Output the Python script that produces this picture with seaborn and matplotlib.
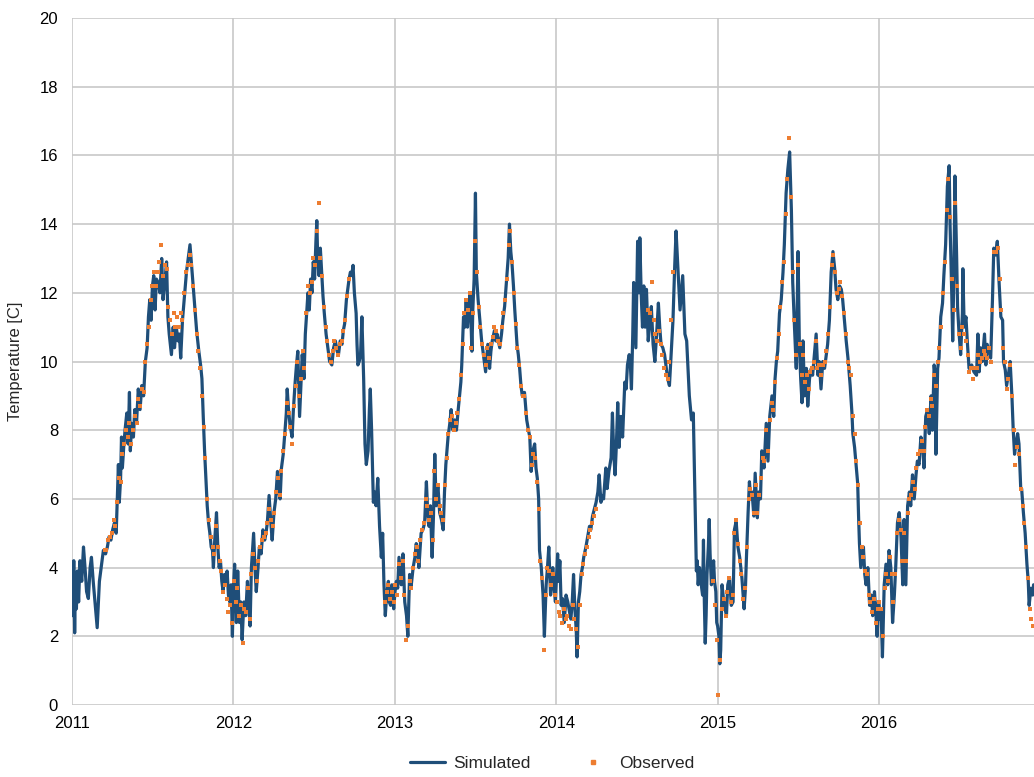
import numpy as np
import pandas as pd
import matplotlib
matplotlib.use("Agg")
import matplotlib.pyplot as plt
import matplotlib.dates as mdates
from matplotlib.lines import Line2D
import seaborn as sns

# ---------------- Simulated series (day of year, temperature) ----------------
sim_days_2011 = [0, 2, 4, 6, 8, 10, 12, 15, 18, 22, 26, 30, 33, 37, 41, 44, 48, 52, 57, 62, 67, 71, 76, 80, 84, 88, 92, 96, 100,
                 103, 105, 107, 110, 112, 114, 117, 120, 124, 127, 130, 132, 135, 139, 142, 146, 150, 154, 158, 162, 166, 170,
                 173, 176, 179, 182, 185, 188, 191, 195, 199, 203, 206, 210, 214, 217, 220, 225, 229, 232, 236, 240, 243, 246,
                 250, 255, 259, 263, 267, 270, 274, 278, 282, 287, 291, 294, 297, 300, 303, 306, 309, 312, 315, 318, 320, 323,
                 327, 330, 333, 336, 339, 342, 345, 348, 351, 354, 357, 360, 363]
sim_temp_2011 = [3.5, 2.6, 4.2, 2.1, 3.7, 2.8, 3.9, 3.0, 4.2, 3.6, 4.6, 3.9, 3.3, 3.1, 4.0, 4.3, 3.6, 3.0, 2.25, 3.6, 4.1, 4.5, 4.4,
                 4.6, 4.9, 4.8, 5.1, 5.3, 5.0, 6.2, 7.0, 5.9, 6.6, 7.8, 6.9, 7.5, 8.0, 8.5, 7.6, 9.1, 7.4, 8.2, 7.8, 8.6, 8.2,
                 9.2, 8.6, 9.3, 9.0, 10.0, 10.4, 11.3, 11.8, 11.2, 12.2, 12.5, 11.5, 12.4, 12.3, 12.0, 13.0, 11.8, 12.3, 12.9,
                 11.3, 10.8, 10.2, 11.0, 10.4, 11.0, 10.6, 10.8, 10.1, 11.2, 12.0, 12.6, 13.0, 13.4, 12.9, 12.2, 11.6, 10.9,
                 10.3, 9.9, 9.5, 8.4, 7.4, 6.6, 5.8, 5.3, 5.0, 4.6, 4.5, 4.0, 4.8, 5.6, 4.6, 4.0, 4.2, 3.6, 3.3, 3.8, 3.5,
                 3.9, 3.2, 3.0, 3.5, 2.0]

sim_days_2012 = [0, 3, 5, 7, 10, 14, 17, 20, 24, 28, 32, 35, 38, 41, 46, 49, 52, 56, 59, 63, 67, 71, 74, 77, 81, 85, 88, 92, 96,
                 100, 103, 106, 109, 113, 117, 120, 122, 125, 128, 133, 136, 140, 143, 146, 150, 153, 156, 160, 163, 166, 169,
                 172, 175, 178, 181, 184, 187, 189, 191, 194, 197, 200, 203, 206, 210, 214, 218, 223, 227, 231, 235, 238, 242,
                 246, 249, 252, 256, 259, 262, 265, 268, 271, 274, 278, 280, 282, 285, 288, 291, 295, 298, 301, 305, 308, 310,
                 313, 317, 320, 323, 327, 331, 335, 338, 341, 344, 347, 351, 353, 356, 359, 363]
sim_temp_2012 = [3.3, 4.1, 3.2, 2.4, 3.9, 2.4, 3.0, 1.9, 3.0, 2.6, 3.6, 2.9, 2.3, 4.0, 5.0, 4.0, 3.3, 4.0, 4.6, 4.4, 5.1, 4.8, 5.0,
                 5.3, 6.1, 5.3, 4.8, 5.6, 6.0, 6.8, 6.2, 6.0, 6.9, 7.3, 8.0, 8.5, 9.2, 8.6, 8.2, 7.8, 8.6, 9.4, 9.9, 10.3, 8.4,
                 9.3, 10.2, 9.5, 10.8, 11.4, 12.0, 11.5, 12.4, 12.0, 12.9, 12.4, 13.5, 14.1, 13.0, 12.5, 13.3, 12.6, 11.9,
                 11.4, 10.8, 10.4, 10.0, 9.9, 10.4, 10.6, 10.3, 10.2, 10.6, 10.5, 10.9, 11.1, 11.8, 12.1, 12.4, 12.6, 12.5,
                 12.8, 12.0, 11.4, 10.5, 9.9, 10.0, 10.2, 11.3, 9.5, 7.6, 7.0, 7.4, 8.6, 9.2, 8.0, 5.9, 6.2, 5.8, 6.6, 5.2,
                 4.3, 5.0, 3.5, 2.6, 3.2, 3.6, 3.0, 2.9, 3.5, 2.8]

sim_days_2013 = [0, 3, 6, 9, 14, 18, 22, 26, 29, 33, 36, 41, 45, 48, 51, 54, 59, 63, 67, 71, 74, 77, 80, 84, 87, 90, 93, 97, 101,
                 105, 109, 112, 115, 120, 124, 127, 131, 135, 139, 143, 146, 149, 151, 155, 158, 161, 164, 166, 170, 174, 176,
                 179, 182, 184, 188, 192, 196, 199, 202, 205, 208, 210, 214, 217, 220, 225, 228, 231, 237, 241, 244, 248, 252,
                 256, 259, 262, 265, 268, 271, 276, 279, 282, 285, 288, 293, 298, 302, 305, 308, 312, 316, 319, 322, 325, 327,
                 331, 335, 338, 342, 345, 348, 352, 355, 357, 360, 363]
sim_temp_2013 = [3.3, 3.6, 3.4, 4.3, 3.5, 4.4, 3.0, 2.6, 2.0, 3.8, 3.4, 4.0, 4.3, 4.7, 4.5, 4.0, 5.0, 5.1, 5.3, 6.5, 5.6, 5.2, 5.8,
                 4.3, 5.5, 7.3, 5.8, 6.4, 5.6, 5.4, 5.1, 6.2, 7.0, 7.8, 8.2, 8.6, 8.0, 8.3, 8.0, 8.6, 9.0, 9.4, 9.9, 11.3, 11.0,
                 11.8, 11.0, 11.4, 12.0, 10.3, 11.5, 12.4, 14.9, 12.6, 11.8, 11.2, 10.6, 10.3, 10.0, 9.7, 10.2, 10.5, 9.8,
                 10.3, 10.6, 10.9, 10.6, 10.8, 10.4, 10.8, 11.2, 11.6, 12.3, 13.0, 14.0, 13.2, 12.8, 12.2, 11.5, 10.5, 10.2,
                 9.8, 9.3, 9.0, 9.1, 8.3, 8.0, 7.8, 6.8, 7.4, 7.6, 6.9, 6.6, 6.0, 4.5, 4.0, 3.2, 2.0, 3.5, 4.0, 4.6, 3.2, 3.6,
                 4.0, 3.4, 3.0]

sim_days_2014 = [0, 3, 5, 8, 11, 14, 18, 22, 26, 30, 33, 36, 39, 42, 45, 47, 50, 53, 56, 59, 62, 67, 71, 75, 78, 82, 86, 90, 94,
                 97, 101, 104, 107, 112, 115, 119, 124, 127, 130, 133, 136, 139, 142, 146, 150, 155, 158, 161, 165, 168, 170,
                 173, 175, 178, 180, 184, 187, 189, 192, 195, 198, 201, 204, 208, 212, 215, 219, 223, 227, 231, 234, 237, 241,
                 245, 249, 252, 256, 259, 261, 264, 266, 268, 271, 274, 276, 280, 283, 286, 289, 291, 295, 298, 301, 304, 306,
                 310, 312, 314, 317, 319, 321, 324, 326, 329, 331, 333, 335, 337, 339, 341, 344, 346, 348, 351, 353, 356, 358,
                 361, 363]
sim_temp_2014 = [3.6, 4.4, 3.6, 4.2, 2.9, 3.1, 2.4, 3.2, 3.0, 2.7, 2.5, 3.0, 3.8, 2.8, 2.2, 1.4, 3.0, 3.3, 3.8, 4.0, 4.3, 4.6, 4.9,
                 5.2, 5.1, 5.5, 5.7, 5.9, 6.2, 6.7, 5.9, 6.1, 6.0, 6.9, 6.3, 6.8, 7.2, 8.5, 7.3, 6.7, 7.6, 8.8, 7.5, 8.4, 7.8,
                 9.4, 9.2, 9.9, 10.2, 9.8, 9.2, 10.8, 12.3, 11.2, 10.4, 13.5, 12.0, 13.6, 12.0, 11.0, 12.2, 11.0, 12.1, 10.6,
                 11.2, 11.6, 10.5, 10.0, 10.8, 11.7, 11.0, 10.5, 10.4, 10.2, 9.8, 9.5, 9.3, 10.0, 10.5, 11.2, 12.0, 12.8, 13.8,
                 13.0, 12.5, 11.5, 12.0, 12.5, 11.5, 10.8, 10.6, 9.8, 9.0, 8.6, 8.3, 8.5, 7.2, 6.0, 3.9, 4.2, 3.5, 4.0, 3.8,
                 3.4, 3.2, 4.8, 3.0, 1.8, 2.6, 3.8, 4.6, 5.4, 4.4, 3.5, 3.8, 4.2, 3.6, 3.3, 2.4]

sim_days_2015 = [0, 3, 5, 7, 10, 14, 17, 20, 23, 27, 31, 35, 38, 42, 46, 50, 55, 60, 63, 65, 69, 72, 75, 78, 82, 85, 90, 93, 97,
                 100, 105, 110, 114, 118, 123, 127, 130, 133, 136, 140, 144, 148, 151, 155, 159, 163, 167, 170, 174, 178, 182,
                 185, 188, 191, 193, 197, 201, 204, 208, 212, 215, 219, 223, 227, 230, 234, 238, 242, 246, 249, 253, 257, 261,
                 265, 268, 272, 276, 280, 283, 287, 291, 295, 300, 304, 306, 310, 314, 317, 319, 321, 324, 327, 330, 333, 336,
                 340, 344, 348, 351, 355, 358, 361, 364]
sim_temp_2015 = [2.3, 2.0, 1.2, 1.6, 3.5, 3.0, 2.8, 2.6, 3.5, 3.7, 2.9, 3.0, 5.1, 5.35, 4.6, 4.3, 3.7, 2.8, 3.4, 4.2, 5.6, 6.5, 6.0,
                 6.2, 5.5, 6.75, 5.45, 6.2, 6.0, 7.4, 6.9, 8.2, 7.1, 8.4, 9.0, 8.4, 9.5, 10.0, 10.3, 11.4, 11.8, 12.6, 13.4,
                 14.9, 15.6, 16.1, 14.4, 12.3, 11.0, 9.8, 13.2, 10.5, 9.5, 8.8, 10.6, 9.0, 9.8, 8.7, 9.5, 9.8, 9.6, 10.2, 10.8,
                 9.6, 10.0, 9.2, 10.0, 9.8, 10.2, 10.5, 11.2, 12.6, 13.2, 12.7, 12.1, 11.8, 12.2, 12.1, 11.8, 11.2, 10.6, 10.1,
                 9.3, 8.5, 7.9, 7.5, 6.9, 6.45, 5.5, 4.7, 4.0, 4.3, 4.6, 3.8, 3.5, 4.0, 2.9, 3.2, 2.6, 3.3, 2.7, 2.0, 3.0]

sim_days_2016 = [0, 3, 5, 8, 12, 16, 20, 23, 27, 31, 35, 38, 42, 46, 50, 54, 57, 61, 65, 69, 72, 76, 80, 84, 87, 91, 95, 99, 102,
                 106, 110, 114, 118, 121, 125, 128, 129, 133, 136, 140, 144, 147, 151, 155, 159, 161, 165, 167, 170, 172, 176,
                 178, 181, 185, 189, 190, 193, 197, 200, 204, 210, 215, 221, 224, 227, 230, 234, 239, 242, 245, 249, 253, 257,
                 260, 264, 268, 272, 276, 280, 282, 286, 289, 294, 297, 301, 304, 307, 310, 314, 317, 321, 323, 327, 331, 335,
                 338, 340, 344, 348, 350]
sim_temp_2016 = [3.0, 2.5, 2.7, 1.4, 3.5, 4.1, 3.5, 4.5, 4.0, 2.4, 3.2, 4.0, 5.3, 5.6, 4.9, 3.5, 5.4, 3.5, 5.8, 6.2, 5.8, 6.7, 6.0,
                 6.7, 7.1, 7.0, 7.8, 7.6, 6.9, 8.4, 8.6, 7.9, 9.0, 8.0, 9.9, 9.5, 7.3, 9.8, 10.1, 11.3, 11.7, 12.5, 13.4, 15.1,
                 15.7, 14.0, 11.9, 10.6, 12.8, 15.4, 13.0, 11.6, 10.9, 10.2, 11.4, 12.7, 11.0, 11.3, 10.6, 9.8, 9.9, 9.7, 9.6,
                 10.8, 9.7, 10.4, 10.0, 10.8, 9.9, 10.5, 10.3, 10.1, 11.8, 13.3, 13.1, 13.5, 12.3, 11.3, 11.2, 10.0, 9.75, 9.3,
                 9.7, 10.0, 9.0, 8.0, 7.3, 7.6, 7.9, 7.6, 6.3, 6.3, 5.6, 5.0, 4.1, 3.6, 2.9, 3.4, 3.2, 3.5]

# ---------------- Observed series (sampled every 4 days from a start date) ----------------
obs_start_a = "2011-03-16"
obs_temp_a = [4.5, 4.5, 4.8, 4.9, 5.0, 5.4, 5.2, 5.9, 6.6, 6.5, 7.3, 7.6, 8.0, 7.8, 8.2, 7.6, 8.0, 8.4, 8.2, 8.9, 8.7, 9.2,
              9.1, 10.0, 10.5, 11.0, 11.8, 12.2, 12.6, 12.2, 12.6, 12.9, 13.4, 12.5, 12.8, 12.7, 11.6, 11.2, 10.8, 11.4,
              11.0, 11.3, 11.0, 11.4, 11.2, 12.0, 12.6, 12.8, 13.1, 12.8, 12.2, 11.5, 10.8, 10.3, 9.8, 9.0, 8.1, 7.2, 6.0,
              5.4, 4.9, 4.6, 4.4, 5.2, 4.6, 4.2, 3.9, 3.3, 3.5, 3.1, 2.7, 2.9, 2.4]

obs_start_b = "2012-01-02"
obs_temp_b = [3.6, 3.0, 3.4, 2.6, 2.9, 1.8, 2.8, 2.7, 3.4, 2.5, 3.8, 4.4, 4.0, 3.6, 4.2, 4.6, 4.8, 4.9, 5.0, 5.3, 5.7, 5.4,
              5.2, 5.6, 6.2, 6.6, 6.1, 6.8, 7.4, 7.9, 8.8, 8.5, 8.1, 7.6, 8.7, 9.3, 10.0, 9.0, 9.5, 10.3, 9.8, 11.4, 12.2,
              12.0, 12.3, 13.0, 12.8, 13.8, 14.6, 13.0, 12.5, 11.6, 11.0, 10.6, 10.2, 10.0, 10.3, 10.6, 10.4, 10.2, 10.5,
              10.6, 10.9, 11.2, 11.9, 12.4]

obs_start_c = "2012-12-09"
obs_temp_c = [3.0, 3.3, 3.5, 3.1, 3.3, 3.0, 3.5, 3.2, 4.1, 3.7, 4.2, 3.2, 1.9, 2.3, 3.6, 3.4, 4.0, 4.4, 4.6, 4.2, 4.8, 5.1,
              5.3, 6.0, 5.8, 5.4, 5.6, 4.8, 6.8, 6.0, 6.4, 5.8, 5.6, 5.4, 6.4, 7.2, 7.9, 8.3, 8.4, 8.0, 8.2, 8.5, 8.9, 9.6,
              10.5, 11.4, 11.8, 11.5, 12.0, 10.4, 11.4, 13.5, 12.6, 11.6, 11.0, 10.5, 10.2, 9.9, 10.4, 10.1, 10.5, 10.7,
              11.0, 10.9, 10.6, 10.5, 11.0, 11.4, 11.8, 12.4, 13.4, 13.8, 12.9, 12.0, 11.1, 10.4, 9.9, 9.3, 9.0, 9.0, 8.5,
              8.0, 7.8, 7.0, 7.3, 7.2, 6.5, 5.7, 4.2, 3.7, 1.6, 3.2, 4.0, 3.9, 3.5, 3.8, 3.2]

obs_start_d = "2014-01-02"
obs_temp_d = [3.0, 2.7, 2.6, 2.4, 2.8, 2.5, 2.6, 2.3, 2.2, 2.9, 2.5, 2.2, 1.7, 2.9, 3.8, 4.1, 4.4, 4.6, 4.9, 5.1, 5.3, 5.5, 5.7]

obs_start_e = "2014-07-28"
obs_temp_e = [11.5, 11.4, 12.3, 11.2, 10.8, 10.6, 10.9, 10.5, 10.2, 9.8, 9.6, 9.5, 10.0, 11.2, 12.6]

obs_start_f = "2014-12-22"
obs_temp_f = [3.6, 2.9, 1.9,
              0.3, 1.3, 2.8, 3.1, 2.6, 3.3, 3.7, 3.0, 3.2, 5.0, 5.4, 4.7, 4.2, 3.8, 3.1, 3.4, 4.6, 6.0, 6.3, 6.1, 5.6,
              6.4, 5.6, 6.1, 6.6, 7.2, 7.1, 8.0, 7.4, 8.3, 8.8, 8.6, 9.4, 10.1, 10.8, 11.6, 12.3, 12.9, 14.3, 15.3, 16.5,
              14.8, 12.6, 11.2, 10.2, 12.8, 10.5, 9.6, 10.2, 9.4, 9.6, 9.2, 9.7, 9.8, 10.0, 10.6, 9.8, 9.9, 9.6, 9.9,
              10.0, 10.3, 10.8, 11.6, 12.8, 13.1, 12.6, 12.0, 12.1, 12.3, 11.9, 11.4, 10.8, 10.0, 9.8, 9.6, 8.4, 7.9, 7.1,
              6.4, 5.3, 4.6, 4.3, 3.9, 3.8, 3.2, 3.0, 2.7, 3.1, 2.4, 2.8]

obs_start_g = "2016-01-02"
obs_temp_g = [3.0, 2.8, 2.0, 3.4, 3.8, 3.6, 4.3, 3.8, 3.0, 3.8, 5.0, 5.4, 5.1, 4.2, 5.0, 4.2, 5.6, 6.0, 6.1, 6.5, 6.3, 6.9,
              7.3, 7.4, 7.7, 7.4, 8.1, 8.6, 8.4, 8.9, 8.7, 9.6, 9.3, 10.0, 10.4, 11.0, 12.0, 12.9, 14.4, 15.3, 14.2, 12.4,
              11.5, 14.6, 12.2, 10.8, 10.4, 11.0, 10.8, 10.6, 10.2, 9.7, 9.8, 9.5, 9.8, 9.8, 10.2, 10.0, 10.1, 10.3, 10.2,
              10.1, 10.4, 10.0, 11.5, 13.2, 13.2, 13.3, 12.4, 11.5, 10.4, 10.0, 9.2, 9.5, 9.9, 9.0, 8.0, 7.0, 7.5, 7.3,
              6.3, 5.8, 5.3, 4.6, 3.7, 2.8, 2.5, 2.3]

y_ticks = [0, 2, 4, 6, 8, 10, 12, 14, 16, 18, 20]
y_label = "Temperature [C]"
series_names = ["Simulated", "Observed"]

# ---------------- Build frames ----------------
sim_parts = []
for yr, d, t in [(2011, sim_days_2011, sim_temp_2011), (2012, sim_days_2012, sim_temp_2012),
                 (2013, sim_days_2013, sim_temp_2013), (2014, sim_days_2014, sim_temp_2014),
                 (2015, sim_days_2015, sim_temp_2015), (2016, sim_days_2016, sim_temp_2016)]:
    dates = pd.Timestamp(f"{yr}-01-01") + pd.to_timedelta(np.array(d), unit="D")
    sim_parts.append(pd.DataFrame({"date": dates, "temp": t}))
sim_df = pd.concat(sim_parts, ignore_index=True)

obs_parts = []
for start, vals in [(obs_start_a, obs_temp_a), (obs_start_b, obs_temp_b), (obs_start_c, obs_temp_c),
                    (obs_start_d, obs_temp_d), (obs_start_e, obs_temp_e), (obs_start_f, obs_temp_f),
                    (obs_start_g, obs_temp_g)]:
    dates = pd.date_range(start, periods=len(vals), freq="4D")
    obs_parts.append(pd.DataFrame({"date": dates, "temp": vals}))
obs_df = pd.concat(obs_parts, ignore_index=True)

# ---------------- Plot ----------------
sns.set_theme(style="white")
plt.rcParams["font.family"] = ["Liberation Sans", "DejaVu Sans"]

BLUE = "#1f4e79"
ORANGE = "#ed7d31"
GRID = "#c8c8c8"

fig = plt.figure(figsize=(10.34, 7.77), dpi=100)
ax = fig.add_axes([72 / 1034, 1 - 705 / 777, (1034 - 72) / 1034, (705 - 18) / 777])

sns.lineplot(data=sim_df, x="date", y="temp", color=BLUE, linewidth=2.3, ax=ax, legend=False, zorder=2)
sns.scatterplot(data=obs_df, x="date", y="temp", color=ORANGE, marker="s", s=8, linewidth=0, ax=ax,
                legend=False, zorder=3)

ax.set_xlim(pd.Timestamp("2011-01-01"), pd.Timestamp("2016-12-17"))
ax.set_ylim(0, 20)
ax.set_yticks(y_ticks)
ax.xaxis.set_major_locator(mdates.YearLocator())
ax.xaxis.set_major_formatter(mdates.DateFormatter("%Y"))
ax.grid(True, color=GRID, linewidth=1.2, zorder=0)
ax.set_axisbelow(True)
for s in ax.spines.values():
    s.set_visible(False)
ax.tick_params(axis="both", length=0, labelsize=12, colors="#000000", pad=8)
ax.tick_params(axis="y", pad=10)
ax.set_xlabel("")
ax.set_ylabel(y_label, fontsize=12, labelpad=12)

handles = [Line2D([0], [0], color=BLUE, linewidth=2.3),
           Line2D([0], [0], color=ORANGE, marker="s", markersize=3, linestyle="none")]
fig.legend(handles, series_names, loc="lower center", bbox_to_anchor=(0.534, -0.012), ncol=2, frameon=False,
           fontsize=12.5, handlelength=2.0, columnspacing=2.6, handletextpad=0.5)

fig.savefig("out.png", dpi=100)
